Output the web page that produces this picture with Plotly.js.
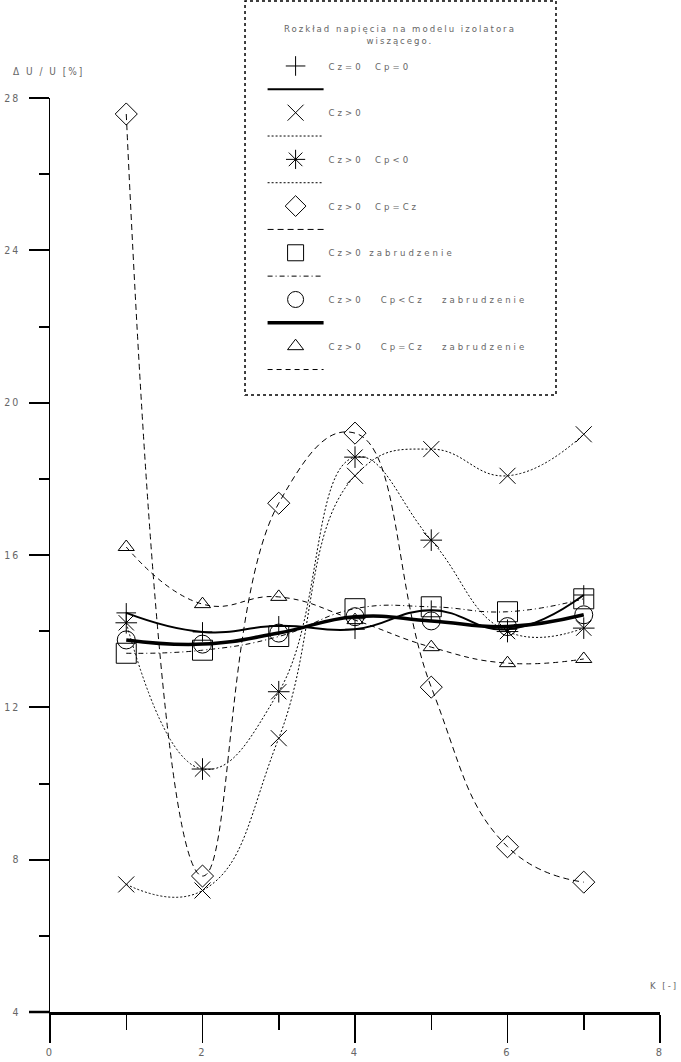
<!DOCTYPE html>
<html>
<head>
<meta charset="utf-8">
<script src="https://cdn.plot.ly/plotly-3.0.1.min.js"></script>
<style>
html,body{margin:0;padding:0;background:#fff;}
#chart text, #js-plotly-tester text{letter-spacing:2px;}
#chart text.legendtext, #js-plotly-tester text.legendtext{letter-spacing:3px;}
</style>
</head>
<body>
<div id="chart" style="width:681px;height:1062px;"></div>
<script>
// ---- data ----
var xK = [1, 2, 3, 4, 5, 6, 7];
var seriesNames = [
  "Cz=0  Cp=0",
  "Cz>0",
  "Cz>0  Cp<0",
  "Cz>0  Cp=Cz",
  "Cz>0 zabrudzenie",
  "Cz>0   Cp<Cz   zabrudzenie",
  "Cz>0   Cp=Cz   zabrudzenie"
];
var yCz0Cp0      = [14.48, 13.98, 14.14, 14.05, 14.55, 14.05, 14.95];
var yCzPos       = [7.35, 7.19, 11.19, 18.08, 18.78, 18.08, 19.17];
var yCzPosCpNeg  = [14.22, 10.38, 12.41, 18.57, 16.39, 13.99, 14.08];
var yCpEqCz      = [27.58, 7.57, 17.36, 19.20, 12.53, 8.34, 7.41];
var yDirty       = [13.42, 13.50, 13.86, 14.59, 14.64, 14.51, 14.85];
var yCpLtCzDirty = [13.77, 13.66, 13.95, 14.38, 14.27, 14.12, 14.43];
var yCpEqCzDirty = [16.21, 14.71, 14.90, 14.29, 13.58, 13.16, 13.27];
var yTickVals = [4, 8, 12, 16, 20, 24, 28];
var yTickText = ["4", "8", "12", "16", "20", "24", "28"];
var xTickVals = [0, 2, 4, 6, 8];
var xTickText = ["0", "2", "4", "6", "8"];
var legendTitle = "Rozkład napięcia na modelu izolatora<br>wiszącego.";
var yTitle = "Δ U / U [%]";
var xTitle = "K [-]";

// ---- styles ----
var allY = [yCz0Cp0, yCzPos, yCzPosCpNeg, yCpEqCz, yDirty, yCpLtCzDirty, yCpEqCzDirty];
var styles = [
  {sym: "cross-thin-open", size: 14, dash: "solid", w: 2},
  {sym: "x-thin-open", size: 16, dash: "2px,2px", w: 1},
  {sym: "asterisk-open", size: 18, dash: "2px,2px", w: 1},
  {sym: "diamond-open", size: 17, dash: "6px,4px", w: 1},
  {sym: "square-open", size: 20, dash: "5px,3px,1px,3px", w: 1},
  {sym: "circle-open", size: 18, dash: "solid", w: 3.5},
  {sym: "triangle-up-open", size: 14, dash: "5px,4px", w: 1}
];

var traces = [];
for (var i = 0; i < allY.length; i++) {
  var s = styles[i];
  traces.push({
    x: xK, y: allY[i], type: "scatter", mode: "markers",
    name: seriesNames[i], legendgroup: "g" + i,
    marker: {symbol: s.sym, size: s.size, color: "#000", line: {color: "#000", width: 1}},
    cliponaxis: false, hoverinfo: "x+y"
  });
  traces.push({
    x: xK, y: allY[i], type: "scatter", mode: "lines",
    name: " <br> ", legendgroup: "g" + i,
    line: {shape: "spline", smoothing: 1.3, color: "#000", width: s.w, dash: s.dash},
    hoverinfo: "skip"
  });
}

var fontFam = "'Liberation Sans Narrow', 'DejaVu Sans Condensed', 'Liberation Sans', sans-serif";
var txtColor = "#666";

var layout = {
  width: 681, height: 1062,
  margin: {l: 50, r: 21, t: 98, b: 50},
  paper_bgcolor: "#fff", plot_bgcolor: "#fff",
  font: {family: fontFam, color: txtColor, size: 11},
  showlegend: true,
  legend: {
    x: 0.3485, y: 1.0509, xanchor: "left", yanchor: "top",
    bgcolor: "rgba(0,0,0,0)", borderwidth: 0,
    traceorder: "grouped", tracegroupgap: 0,
    itemwidth: 56,
    font: {family: fontFam, color: txtColor, size: 9.5}
  },
  xaxis: {
    range: [0, 8], tickmode: "array", tickvals: xTickVals, ticktext: xTickText,
    ticks: "outside", ticklen: 28, tickwidth: 1.5, tickcolor: "#000",
    minor: {dtick: 1, tick0: 0, ticks: "outside", ticklen: 15, tickwidth: 1.5, tickcolor: "#000", showgrid: false},
    showline: true, linecolor: "#000", linewidth: 2.5,
    showgrid: false, zeroline: false,
    tickfont: {family: fontFam, color: txtColor, size: 11}
  },
  yaxis: {
    range: [4, 28], tickmode: "array", tickvals: yTickVals, ticktext: yTickText,
    ticks: "outside", ticklen: 20, tickwidth: 2, tickcolor: "#000",
    minor: {dtick: 2, tick0: 4, ticks: "outside", ticklen: 10, tickwidth: 2, tickcolor: "#000", showgrid: false},
    showline: true, linecolor: "#000", linewidth: 1.5,
    showgrid: false, zeroline: false, ticklabelstandoff: 6,
    tickfont: {family: fontFam, color: txtColor, size: 10.5}
  },
  shapes: [
    {type: "line", xref: "paper", yref: "paper", x0: -0.0344, x1: 0, y0: 0, y1: 0, line: {color: "#000", width: 2.5}},
    {type: "line", xref: "paper", yref: "paper", x0: 0, x1: 0, y0: -0.0197, y1: 0, line: {color: "#000", width: 1.5}},
    {type: "rect", xref: "paper", yref: "paper", x0: 0.3197, x1: 0.8295, y0: 0.675, y1: 1.1061,
     line: {color: "#000", width: 1.5, dash: "dot"}, fillcolor: "rgba(0,0,0,0)"}
  ],
  annotations: [
    {text: legendTitle, xref: "paper", yref: "paper", x: 0.5738, y: 1.070, xanchor: "center", yanchor: "middle",
     align: "center", showarrow: false, font: {family: fontFam, color: txtColor, size: 9.5}},
    {text: yTitle, xref: "paper", yref: "paper", x: -0.0647, y: 1.029, xanchor: "left", yanchor: "middle",
     showarrow: false, font: {family: fontFam, color: txtColor, size: 10}},
    {text: xTitle, xref: "paper", yref: "paper", x: 1.0328, y: 0.0295, xanchor: "right", yanchor: "middle",
     showarrow: false, font: {family: fontFam, color: txtColor, size: 9.5}}
  ]
};

Plotly.newPlot("chart", traces, layout, {displayModeBar: false, staticPlot: true});
</script>
</body>
</html>
